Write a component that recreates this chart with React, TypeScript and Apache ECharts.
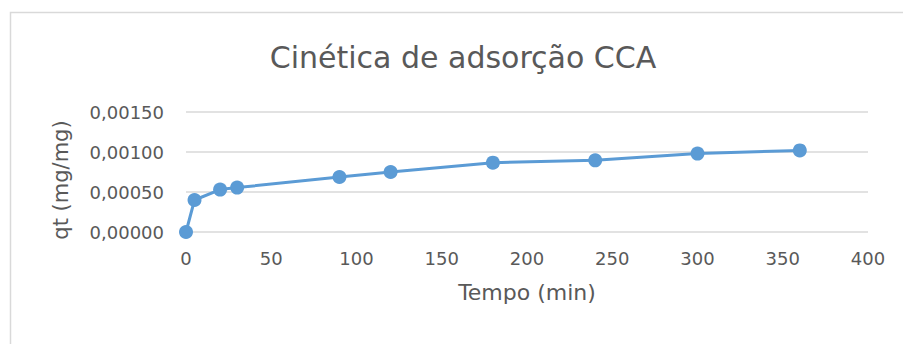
import React, { useEffect, useRef } from "react";
import * as echarts from "echarts";

const tempo = [0, 5, 20, 30, 90, 120, 180, 240, 300, 360];
const qt = [0, 0.0004, 0.00053, 0.000555, 0.000688, 0.00075, 0.000867, 0.000896, 0.00098, 0.00102];
const title = "Cinética de adsorção CCA";
const xName = "Tempo (min)";
const yName = "qt (mg/mg)";

export default function App() {
  const ref = useRef<HTMLDivElement>(null);
  useEffect(() => {
    const chart = echarts.init(ref.current!, null, { renderer: "svg" });
    const font = "'DejaVu Sans', sans-serif";
    chart.setOption({
      animation: false,
      backgroundColor: "#ffffff",
      textStyle: { fontFamily: font },
      title: {
        text: title,
        left: 458,
        top: 37,
        textAlign: "center",
        textStyle: { fontSize: 30, fontWeight: "normal", color: "#595959", fontFamily: font },
      },
      graphic: [
        {
          type: "rect",
          shape: { x: 10.5, y: 12.5, width: 1000, height: 400 },
          style: { fill: "none", stroke: "#D9D9D9", lineWidth: 1.5 },
        },
        {
          type: "text",
          x: 61,
          y: 180,
          rotation: Math.PI / 2,
          style: {
            text: yName,
            fontSize: 21,
            fontFamily: font,
            fill: "#595959",
            align: "center",
            verticalAlign: "middle",
          },
        },
      ],
      grid: { left: 186, top: 112, right: 903 - 868, bottom: 344 - 232, containLabel: false },
      xAxis: {
        type: "value",
        min: 0,
        max: 400,
        interval: 50,
        name: xName,
        nameLocation: "middle",
        nameGap: 49,
        nameTextStyle: { fontSize: 22, color: "#595959", fontFamily: font },
        axisLine: { show: false },
        axisTick: { show: false },
        splitLine: { show: false },
        axisLabel: { fontSize: 18, color: "#595959", margin: 17, fontFamily: font },
      },
      yAxis: {
        type: "value",
        min: 0,
        max: 0.0015,
        interval: 0.0005,
        axisLine: { show: false },
        axisTick: { show: false },
        splitLine: { show: true, lineStyle: { color: "#D9D9D9", width: 1.5 } },
        axisLabel: {
          fontSize: 18,
          color: "#595959",
          margin: 22,
          fontFamily: font,
          formatter: (v: number) => v.toFixed(5).replace(".", ","),
        },
      },
      series: [
        {
          type: "line",
          data: tempo.map((t, i) => [t, qt[i]]),
          symbol: "circle",
          symbolSize: 14,
          itemStyle: { color: "#5B9BD5" },
          lineStyle: { color: "#5B9BD5", width: 3 },
        },
      ],
    });
    return () => chart.dispose();
  }, []);
  return (
    <div
      ref={ref}
      style={{ position: "fixed", left: 0, top: 0, width: 903, height: 344 }}
    />
  );
}
